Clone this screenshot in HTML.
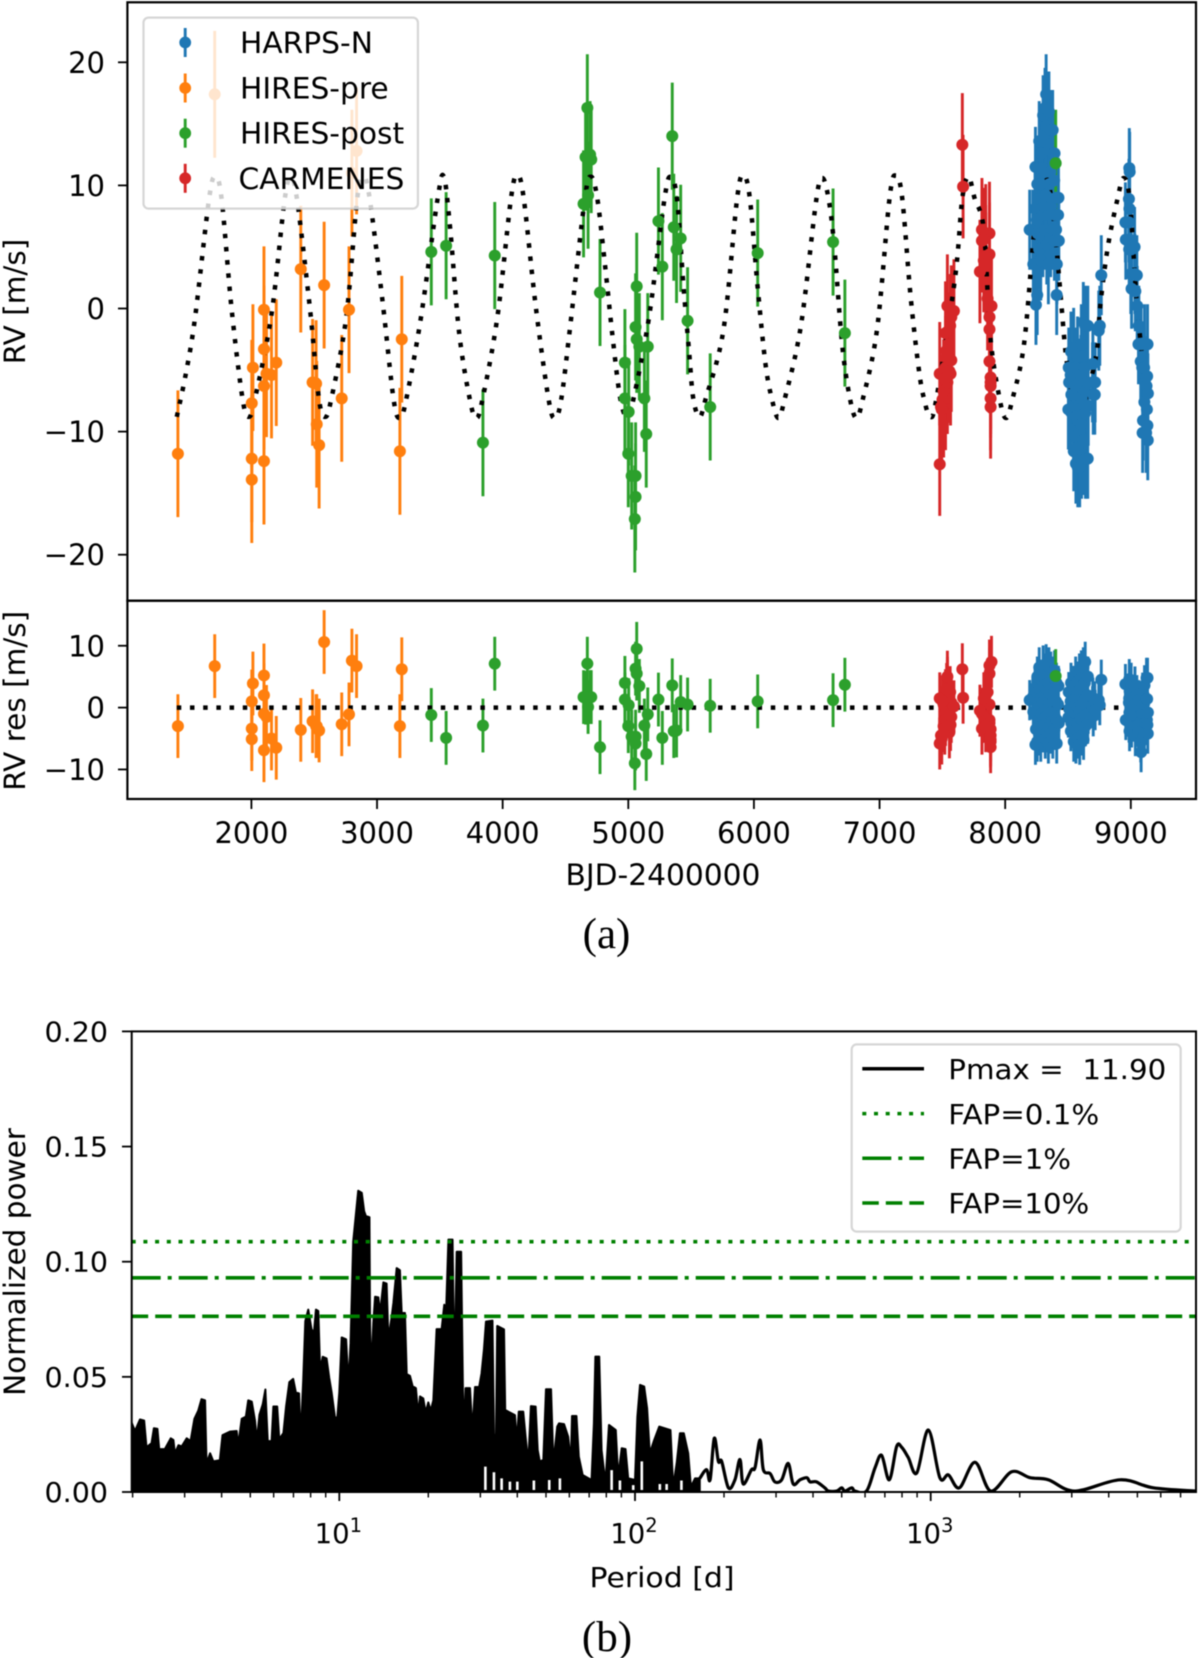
<!DOCTYPE html>
<html lang="en">
<head>
<meta charset="utf-8">
<title>Radial velocity time series and periodogram</title>
<style>
html,body{margin:0;padding:0;background:#fff;}
svg{display:block;filter:blur(.45px);}
text{font-family:"DejaVu Sans","Liberation Sans",sans-serif;fill:#000;}
.caption{font-family:"Liberation Serif",serif;font-size:43px;}
</style>
</head>
<body>
<svg xmlns="http://www.w3.org/2000/svg" width="1200" height="1658" viewBox="0 0 1200 1658">
  <defs>
    <clipPath id="pgram-clip"><rect x="131.7" y="1031.4" width="1064.3" height="460.6"/></clipPath>
  </defs>
  <rect x="0" y="0" width="1200" height="1658" fill="#fff"/>

  <g id="rv-bars"></g>
  <g id="rv-model"></g>
  <g id="rv-markers"></g>
  <rect x="127.4" y="2.3" width="1068.6" height="598.4" fill="none" stroke="#000" stroke-width="2.2"/>

  <g id="res-bars"></g>
  <g id="res-model"></g>
  <g id="res-markers"></g>
  <rect x="127.4" y="600.7" width="1068.6" height="198.3" fill="none" stroke="#000" stroke-width="2.2"/>

  <g id="axis-ticks"></g>

  <text transform="translate(25,301.5) rotate(-90)" text-anchor="middle" font-size="29.5">RV [m/s]</text>
  <text transform="translate(25,700.8) rotate(-90)" text-anchor="middle" font-size="29.5">RV res [m/s]</text>
  <text x="663" y="885" text-anchor="middle" font-size="29.7">BJD-2400000</text>
  <text class="caption" x="606.5" y="948" text-anchor="middle">(a)</text>

  <g>
    <rect x="143.5" y="17.6" width="274.4" height="191" rx="5" fill="#fff" fill-opacity=".8" stroke="#ccc" stroke-opacity=".8" stroke-width="2.2"/>
    <g>
      <line x1="185.2" x2="185.2" y1="28" y2="57" stroke="#1f77b4" stroke-width="2.9"/>
      <circle cx="185.2" cy="42.5" r="5.9" fill="#1f77b4"/>
      <text x="240" y="53" font-size="29.7">HARPS-N</text>
    </g>
    <g>
      <line x1="185.2" x2="185.2" y1="73.5" y2="102.5" stroke="#ff7f0e" stroke-width="2.9"/>
      <circle cx="185.2" cy="88" r="5.9" fill="#ff7f0e"/>
      <text x="240" y="98.5" font-size="29.7">HIRES-pre</text>
    </g>
    <g>
      <line x1="185.2" x2="185.2" y1="118.7" y2="147.7" stroke="#2ca02c" stroke-width="2.9"/>
      <circle cx="185.2" cy="133.2" r="5.9" fill="#2ca02c"/>
      <text x="240" y="143.7" font-size="29.7">HIRES-post</text>
    </g>
    <g>
      <line x1="185.2" x2="185.2" y1="163.8" y2="192.8" stroke="#d62728" stroke-width="2.9"/>
      <circle cx="185.2" cy="178.3" r="5.9" fill="#d62728"/>
      <text x="238.5" y="188.8" font-size="29.7">CARMENES</text>
    </g>
  </g>

  <g clip-path="url(#pgram-clip)" id="pgram"></g>
  <g clip-path="url(#pgram-clip)" id="fap"></g>
  <rect x="131.7" y="1031.4" width="1064.3" height="460.6" fill="none" stroke="#000" stroke-width="2"/>
  <g id="pgram-ticks"></g>

  <text transform="translate(25,1262) rotate(-90)" text-anchor="middle" font-size="29.5">Normalized power</text>
  <text x="662" y="1587" text-anchor="middle" font-size="28" textLength="145" lengthAdjust="spacingAndGlyphs">Period [d]</text>
  <text class="caption" x="607" y="1651" text-anchor="middle">(b)</text>

  <g>
    <rect x="851.7" y="1044.4" width="329" height="187.2" rx="5" fill="#fff" fill-opacity=".8" stroke="#ccc" stroke-opacity=".8" stroke-width="2.2"/>
    <g>
      <line x1="862.3" x2="924" y1="1068.8" y2="1068.8" stroke="#000" stroke-width="3.5"/>
      <text x="948.3" y="1079" font-size="28" textLength="218" lengthAdjust="spacingAndGlyphs" xml:space="preserve">Pmax =  11.90</text>
    </g>
    <g>
      <line x1="862.3" x2="924" y1="1113.6" y2="1113.6" stroke="#008000" stroke-width="3.5" stroke-dasharray="4 7.7"/>
      <text x="948.3" y="1123.8" font-size="28" textLength="151" lengthAdjust="spacingAndGlyphs">FAP=0.1%</text>
    </g>
    <g>
      <line x1="862.3" x2="924" y1="1158.3" y2="1158.3" stroke="#008000" stroke-width="3.5" stroke-dasharray="29 7 4 7"/>
      <text x="948.3" y="1168.5" font-size="28" textLength="122.7" lengthAdjust="spacingAndGlyphs">FAP=1%</text>
    </g>
    <g>
      <line x1="862.3" x2="924" y1="1203" y2="1203" stroke="#008000" stroke-width="3.5" stroke-dasharray="16.5 7"/>
      <text x="948.3" y="1213.2" font-size="28" textLength="141" lengthAdjust="spacingAndGlyphs">FAP=10%</text>
    </g>
  </g>
</svg>

<script>
// ---------- tick labels ----------
const rvTicks = [20, 10, 0, -10, -20];
const resTicks = [10, 0, -10];
const dayTicks = [2000, 3000, 4000, 5000, 6000, 7000, 8000, 9000];
const powerTicks = ["0.00", "0.05", "0.10", "0.15", "0.20"];
const periodDecades = [1, 2, 3];
const periodMinorLogs = [0.301,0.477,0.602,0.699,0.778,0.845,0.903,0.954,1.301,1.477,1.602,1.699,1.778,1.845,1.903,1.954,2.301,2.477,2.602,2.699,2.778,2.845,2.903,2.954,3.301,3.477,3.602,3.699,3.778,3.845];

// ---------- HARPS-N ----------
const harpsDays = [8195,8220,8224,8241,8238,8243,8240,8245,8256,8253,8258,8255,8271,8274,8268,8272,8270,8287,8284,8289,8286,8283,8302,8305,8299,8303,8300,8317,8314,8320,8316,8319,8326,8329,8323,8331,8348,8345,8351,8347,8350,8344,8363,8360,8366,8362,8378,8381,8375,8379,8393,8390,8396,8392,8408,8405,8411,8410,8424,8421,8427,
8506,8509,8503,8524,8521,8527,8523,8545,8542,8548,8544,8546,8561,8558,8564,8560,8563,8576,8573,8579,8575,8578,8591,8588,8594,8590,8593,8606,8603,8609,8605,8608,8622,8619,8625,8621,8624,8637,8634,8640,8636,8639,8658,8655,8661,8657,8698,8695,8701,8713,8716,8753,8745,8765,
8957,8960,8988,8991,8985,8989,8986,8990,8987,9003,9000,9006,9033,9030,9036,9048,9051,9064,9061,9079,9082,9094,9091,9097,9109,9106,9112,9108,9125,9122,9128,9133,9130,9136,9132,9135];
const harpsRv = [6.4,6.4,3.6,11.5,8.1,6.4,3.6,0.3,10.1,7.2,6.1,1.1,13.6,11.4,8.9,6.4,4.8,12.6,10.1,8.1,6.1,3.9,15.7,13.6,11.4,7.6,5.8,16.3,14.2,11.1,8.3,6.4,17.4,14.8,9.2,5.2,16,12.9,10.1,7.6,6.1,3.6,14.5,11.1,8.3,5.8,14.5,12.6,8.9,6.4,12.6,10.4,7.6,5.5,9,6.4,3.6,1.1,9,7.6,5.5,
-4.8,-6,-8.2,-3.5,-5.4,-7,-8.4,-3.2,-6,-7.9,-9.8,-11.6,-4.8,-6.3,-8.8,-10.4,-12.6,-3.9,-7.3,-9.1,-11.3,-12.9,-6,-7.9,-10.1,-11.9,-12.9,-2.9,-5.4,-7.3,-9.4,-12.2,-1.1,-3.9,-7.9,-10.7,-11.9,-1.4,-4.8,-6.7,-8.5,-12.2,-1.4,-6,-7.9,-12.2,-4.5,-6,-7,-7,-6,-1.4,-1.8,2.7,
7,5.6,11.4,11.1,8.9,8.1,7,5.6,4.8,4.8,2.8,1.6,2.8,5,1.4,2.7,0.2,-1.4,-2.9,-4.3,-2.9,-10.1,-4.8,-9.1,-2.9,-4.8,-6,-7.6,-6.3,-10.1,-8.2,-2.9,-5.5,-6.9,-9.5,-10.7];
const harpsRes = [1.2,1.7,-0.7,-6,3.2,1.5,-1.2,-3.5,5,2.5,-0.5,-5.5,6.5,3,0.5,-2,-4.5,4.5,1.5,-1,-3,-5.5,6.8,3.5,0.8,-1.8,-4,5.5,2,-0.3,-2.8,-5,7,3,-1.5,-4,6.5,4,1,-1,-3.2,-5.8,5.8,2.2,-0.8,-4.2,5,1.8,-2.2,-5,6,3.2,-1.5,-3.6,4,1,-2,-5.8,3.5,0.5,-2.5,
2.5,-0.2,-1.6,4,1,-2.5,-3.8,3.5,1.2,-0.8,-3,-5.5,5,1.5,-1,-3.5,-5.8,4.2,2,0,-2.5,-5,5.5,2.8,-0.5,-3.2,-6,6,3,0.6,-1.8,-4.5,6.5,3.6,1,-2.2,-5.2,7.4,4,1.5,-1.2,-3,5,2,-1,-2.6,1.6,0.2,-1.4,1,-0.4,0.4,1.2,4.5,
3.8,-2,4.6,2.6,0.8,-0.8,-2.4,-3.8,1.5,4,-1.2,-3.2,3.4,0.4,-4.6,2,-3,1.2,-4,-5.6,-7.2,2.4,-1,-4.8,3.6,0.6,-2.4,-4.4,4.8,1.4,-2,4.8,1.4,-0.8,-2.8,-4.2];
const harpsErr = 3.25;

// ---------- HIRES-pre ----------
const hiresPreDays = [1415,1708,2012,2003,2003,2003,2100,2100,2100,2100,2120,2160,2198,2393,2487,2515,2520,2539,2579,2719,2777,2800,2837,3182,3197];
const hiresPreRv = [-11.8,17.4,-4.8,-7.7,-12.2,-13.9,-0.1,-3.3,-6.3,-12.4,-5.3,-5.4,-4.4,3.2,-6,-6.1,-9.4,-11.1,1.9,-7.3,-0.1,11,12.8,-11.6,-2.5];
const hiresPreRes = [-3,6.7,3.9,1,-3.4,-5.1,5.2,2,-1,-6.9,-1.5,-5,-6.5,-3.6,-2.2,-3,-3,-3.7,10.6,-2.7,-1.1,7.6,6.7,-3,6.2];
const hiresPreErr = 5.15;

// ---------- HIRES-post ----------
const hiresPostDays = [3432,3550,3843,3937,4644,4674,4680,4696,4705,4660,4775,4973,4973,5003,5000,5027,5058,5058,5052,5067,5058,5067,5088,5155,5128,5143,5240,5271,5350,5362,5384,5417,5472,5652,6030,6630,6724,8402];
const hiresPostRv = [4.6,5.1,-10.9,4.3,8.5,16.3,9.2,12.5,12.1,12.3,1.3,-4.4,-7.3,-8.4,-11.8,-13.6,-13.6,-15.3,-17.1,1.8,-1.5,-2.5,-3.1,-3.1,-7.3,-10.2,7.1,3.4,14,6.6,4.8,5.7,-1,-8,4.5,5.4,-2,11.8];
const hiresPostRes = [-1.2,-4.9,-2.9,7.1,1.7,7.1,0.1,1.7,1.7,1.6,-6.4,4,1.3,0.4,-3,-4.7,-4.7,-5.8,-9,9.5,6.3,5.5,3.5,-1.1,-2.9,-7.5,1.3,-4.9,3.6,-3.8,-3.7,0.9,0.5,0.3,1,1.2,3.7,5.1];
const hiresPostErr = 4.35;

// ---------- CARMENES ----------
const carmenesDays = [7479,7659,7665,7479,7510,7525,7495,7510,7540,7525,7556,7571,7540,7549,7525,7562,7540,7592,7571,7519,7501,7489,7534,7565,7815,7875,7845,7815,7875,7830,7799,7845,7891,7875,7875,7860,7875,7884,7884,7884,7884,7884,7845,7830];
const carmenesRv = [-12.65,13.3,9.9,-5.3,-7.9,-7.3,-8.2,-6.7,-6,-4.8,-5.1,-4.2,-3.9,-2.9,-2,-1.4,0.2,-0.2,-0.7,-5.7,-7.4,-8,-3.4,-5.3,6.4,6.1,5.9,5.5,4.4,3.9,3,4.2,0.2,-0.7,-1.7,0.8,-4.3,-5.6,-6,-6.3,-7.3,-8,3.6,5.6];
const carmenesRes = [-5.8,6.2,1.6,1.5,-3,-1,-5,0.5,3.5,2,-4,0.8,4,1.2,-2,2.5,5,0.2,-1.5,-3.4,1,-4.5,3,-2.8,-1,0.5,1,-3.4,-2,-1.5,-0.5,2,7.4,5.5,6.8,2.5,-2.5,-3.5,-4.5,-5.5,-6.4,-5.2,-3,1.5];
const carmenesErr = 4.2;

// ---------- RV model ----------
const modelDays = [1406,1480,1552,1663,1713,1763,1842,1929,1979,2029,2161,2264,2314,2364,2466,2537,2587,2637,2755,2842,2892,2942,3045,3132,3182,3232,3350,3482,3532,3582,3654,3739,3789,3839,3958,4067,4117,4167,4263,4366,4416,4466,4537,4654,4704,4754,4814,4875,4936,4990,5040,5165,5288,5338,5388,5438,5484,5517,5567,5617,5758,5867,5917,5967,6030,6092,6144,6194,6244,6374,6496,6546,6596,6640,6703,6766,6816,6866,6980,7080,7130,7180,7247,7312,7353,7403,7453,7600,7658,7708,7758,7830,7882,7957,8007,8057,8150,8226,8267,8317,8367,8410,8450,8485,8540,8590,8640,8728,8756,8817,8892,8942,8992,9048,9109,9118,9133];
const modelRv = [-8.8,-5.2,-0.7,8.9,10.7,8.9,0,-7.3,-8.8,-7.3,-0.4,8.8,10.6,8.8,0,-7.3,-8.8,-7.3,-0.7,8.9,10.7,8.9,0.5,-7.4,-8.9,-7.4,-0.7,8.9,10.7,6.5,-2,-7.4,-8.9,-7.4,-0.7,9,10.8,9,0.2,-7.4,-8.9,-7.4,-1.5,8.9,10.7,8.9,3.6,-2.3,-7.3,-8.8,-7.4,-0.7,8.9,10.7,8.9,2,-3.5,-7.3,-8.8,-7.3,-1.7,9,10.8,9,1.7,-4.5,-7.4,-8.9,-7.4,-1.4,8.8,10.6,8.8,5,-3,-7.4,-8.9,-7.4,-1.7,9,10.8,9,1,-4.9,-7.3,-8.8,-7.3,2.4,8.9,10.7,8.9,6.4,-2.3,-7.4,-8.9,-7.4,-2.9,5.8,9,10.7,9,4.75,0,-3.9,-7.4,-8.9,-7.4,-3.6,0.15,5,8.8,10.6,8.8,0.4,-5.5,-6.3,-7];
const residualLineDays = [1406, 9150];
const residualLineValues = [0, 0];

// ---------- periodogram: upper envelope of the dense region (log10 period, power) ----------
const envelopeLogPeriod = [0.298,0.309,0.326,0.340,0.348,0.365,0.373,0.385,0.391,0.410,0.430,0.439,0.444,0.456,0.467,0.484,0.497,0.510,0.523,0.534,0.546,0.551,0.563,0.574,0.596,0.605,0.630,0.653,0.658,0.670,0.684,0.692,0.704,0.715,0.721,0.730,0.741,0.750,0.758,0.771,0.777,0.790,0.797,0.811,0.820,0.831,0.844,0.853,0.864,0.869,0.878,0.885,0.895,0.906,0.914,0.921,0.929,0.935,0.944,0.957,0.966,0.974,0.985,0.993,1.000,1.008,1.023,1.031,1.038,1.047,1.064,1.076,1.084,1.090,1.102,1.104,1.108,1.115,1.121,1.132,1.138,1.149,1.160,1.166,1.177,1.183,1.194,1.205,1.211,1.222,1.228,1.239,1.248,1.259,1.267,1.273,1.284,1.292,1.301,1.309,1.318,1.329,1.346,1.355,1.361,1.369,1.383,1.389,1.397,1.412,1.420,1.427,1.442,1.450,1.459,1.473,1.481,1.489,1.496,1.518,1.523,1.530,1.534,1.557,1.561,1.594,1.600,1.607,1.622,1.630,1.639,1.648,1.664,1.671,1.678,1.690,1.699,1.716,1.724,1.737,1.743,1.760,1.774,1.783,1.787,1.802,1.810,1.823,1.853,1.861,1.866,1.879,1.887,1.900,1.912,1.935,1.943,1.955,1.968,1.977,2.000,2.008,2.017,2.031,2.041,2.050,2.065,2.082,2.120,2.129,2.141,2.152,2.165,2.180,2.189,2.203,2.219];
const envelopePower = [0.030,0.0265,0.0315,0.031,0.0194,0.0212,0.0277,0.0274,0.0186,0.0186,0.0233,0.0226,0.0168,0.0203,0.0198,0.0233,0.0221,0.0318,0.0353,0.0403,0.0398,0.0124,0.0168,0.0133,0.0138,0.0247,0.0262,0.0265,0.0203,0.0318,0.0327,0.0398,0.0392,0.0309,0.0221,0.0336,0.038,0.0445,0.0221,0.0221,0.0371,0.0371,0.023,0.0256,0.0371,0.0477,0.0491,0.0433,0.0428,0.0226,0.0486,0.0742,0.0792,0.0707,0.0689,0.0792,0.0786,0.053,0.0587,0.058,0.0495,0.0433,0.0327,0.0318,0.0433,0.0671,0.0663,0.0468,0.0645,0.1087,0.1308,0.1299,0.1219,0.1198,0.1193,0.0724,0.0512,0.0733,0.0848,0.0845,0.0777,0.091,0.0905,0.0663,0.076,0.0822,0.0972,0.0963,0.0777,0.0777,0.0512,0.0504,0.0459,0.0451,0.0336,0.0415,0.0406,0.0345,0.0389,0.0353,0.0398,0.0707,0.0707,0.0813,0.0777,0.1096,0.1096,0.0512,0.1043,0.1043,0.0247,0.0451,0.0451,0.0265,0.0456,0.0456,0.0515,0.0617,0.074,0.0744,0.0248,0.0248,0.0721,0.0706,0.0356,0.0334,0.0219,0.0349,0.0349,0.024,0.0125,0.0373,0.0371,0.0182,0.0132,0.014,0.0446,0.0446,0.0125,0.0284,0.0298,0.0295,0.024,0.0125,0.033,0.033,0.0153,0.0074,0.0052,0.0298,0.0588,0.0588,0.0182,0.0038,0.0291,0.0269,0.0067,0.019,0.0186,0.0059,0.0052,0.0327,0.0465,0.0458,0.0363,0.0168,0.0226,0.0284,0.0269,0.0023,0.0125,0.0255,0.0255,0.0168,0.0023,0.0059,0.0059];

// ---------- periodogram: troughs that reach below the dense region (log10 period, power at the trough) ----------
const troughLogPeriod = [1.494,1.523,1.549,1.577,1.602,1.658,1.710,1.746,1.921,1.949,1.994,2.023,2.084,2.107,2.157];
const troughPower = [0.011,0.0086,0.0059,0.0045,0.0045,0.005,0.0052,0.0059,0.0095,0.005,0.003,0.0133,0.0035,0.0035,0.005];

// ---------- periodogram: resolved line for longer periods (log10 period, power) ----------
const lineLogPeriod = [2.219,2.242,2.254,2.268,2.282,2.293,2.316,2.338,2.355,2.366,2.394,2.406,2.423,2.434,2.457,2.473,2.496,2.518,2.535,2.558,2.581,2.592,2.614,2.642,2.654,2.682,2.699,2.710,2.733,2.744,2.783,2.812,2.834,2.860,2.885,2.902,2.924,2.953,2.992,3.031,3.060,3.097,3.150,3.203,3.274,3.336,3.398,3.488,3.640,3.753,3.897];
const linePower = [0.0059,0.0097,0.0053,0.0233,0.0133,0.0133,0.0018,0.0053,0.0141,0.0035,0.0097,0.0106,0.0226,0.0097,0.008,0.0044,0.0053,0.0124,0.0035,0.0053,0.0062,0.0044,0.0044,0.0018,0.0004,0.0004,0.0018,0.0004,0.0018,0.0004,0.0004,0.0106,0.0159,0.0053,0.0198,0.0194,0.015,0.0083,0.0269,0.0062,0.0074,0.0018,0.0129,0.0004,0.0088,0.0062,0.0053,0.0004,0.0053,0.0018,0.0004];

// ---------- false-alarm levels ----------
const fapLevels = [0.1087, 0.093, 0.0763];
const fapNames = ["fap-0-1-percent", "fap-1-percent", "fap-10-percent"];

// ---------- axis functions ----------
function xDay(d) { return 251.4 + (d - 2000) * 0.12563; }
function yRv(v) { return 308.5 - v * 12.31; }
function yRes(v) { return 707.6 - v * 6.185; }
function xLogP(l) { return 339.3 + (l - 1) * 295.7; }
function yPow(p) { return 1492 - p * 2303; }

const NS = "http://www.w3.org/2000/svg";
function make(tag, attrs, parent) {
  const node = document.createElementNS(NS, tag);
  for (const k in attrs) node.setAttribute(k, attrs[k]);
  parent.appendChild(node);
  return node;
}
function smoothPath(pts) {
  let d = "M" + pts[0][0].toFixed(2) + " " + pts[0][1].toFixed(2);
  for (let i = 0; i < pts.length - 1; i++) {
    const p0 = pts[Math.max(i - 1, 0)], p1 = pts[i], p2 = pts[i + 1], p3 = pts[Math.min(i + 2, pts.length - 1)];
    const c1x = p1[0] + (p2[0] - p0[0]) / 6, c1y = p1[1] + (p2[1] - p0[1]) / 6;
    const c2x = p2[0] - (p3[0] - p1[0]) / 6, c2y = p2[1] - (p3[1] - p1[1]) / 6;
    d += "C" + c1x.toFixed(2) + " " + c1y.toFixed(2) + " " + c2x.toFixed(2) + " " + c2y.toFixed(2) + " " + p2[0].toFixed(2) + " " + p2[1].toFixed(2);
  }
  return d;
}

const seriesList = [
  { key: "harps-n", days: harpsDays, rv: harpsRv, res: harpsRes, err: harpsErr, color: "#1f77b4" },
  { key: "hires-pre", days: hiresPreDays, rv: hiresPreRv, res: hiresPreRes, err: hiresPreErr, color: "#ff7f0e" },
  { key: "hires-post", days: hiresPostDays, rv: hiresPostRv, res: hiresPostRes, err: hiresPostErr, color: "#2ca02c" },
  { key: "carmenes", days: carmenesDays, rv: carmenesRv, res: carmenesRes, err: carmenesErr, color: "#d62728" }
];

const rvBars = document.getElementById("rv-bars");
const rvMarkers = document.getElementById("rv-markers");
const resBars = document.getElementById("res-bars");
const resMarkers = document.getElementById("res-markers");

seriesList.forEach(function (s) {
  s.days.forEach(function (day, i) {
    const cx = xDay(day);
    const bar = make("line", { x1: cx, x2: cx, y1: yRv(s.rv[i] + s.err), y2: yRv(s.rv[i] - s.err), stroke: s.color, "stroke-width": 2.9 }, rvBars);
    
    
    const dot = make("circle", { cx: cx, cy: yRv(s.rv[i]), r: 6, fill: s.color }, rvMarkers);
    
    
    const rbar = make("line", { x1: cx, x2: cx, y1: yRes(s.res[i] + s.err), y2: yRes(s.res[i] - s.err), stroke: s.color, "stroke-width": 2.9 }, resBars);
    
    
    const rdot = make("circle", { cx: cx, cy: yRes(s.res[i]), r: 6, fill: s.color }, resMarkers);
    
    
  });
});

const modelPts = modelDays.map(function (d, i) { return [xDay(d), yRv(modelRv[i])]; });
const modelLine = make("path", { d: smoothPath(modelPts), fill: "none", stroke: "#000", "stroke-width": 4.5, "stroke-dasharray": "4.5 8.7" }, document.getElementById("rv-model"));



const zeroLine = make("line", { x1: xDay(residualLineDays[0]), x2: xDay(residualLineDays[1]), y1: yRes(residualLineValues[0]), y2: yRes(residualLineValues[1]), stroke: "#000", "stroke-width": 4.5, "stroke-dasharray": "4.5 8.7" }, document.getElementById("res-model"));



// ticks, top panels
const tickLayer = document.getElementById("axis-ticks");
rvTicks.forEach(function (v) {
  const y = yRv(v);
  const mark = make("line", { x1: 118, x2: 127.4, y1: y, y2: y, stroke: "#000", "stroke-width": 1.8 }, tickLayer);
  
  
  const label = make("text", { x: 105, y: y + 10.5, "text-anchor": "end", "font-size": 29 }, tickLayer);
  label.textContent = String(v).replace("-", "\u2212");
  
  
});
resTicks.forEach(function (v) {
  const y = yRes(v);
  const mark = make("line", { x1: 118, x2: 127.4, y1: y, y2: y, stroke: "#000", "stroke-width": 1.8 }, tickLayer);
  
  
  const label = make("text", { x: 105, y: y + 10.5, "text-anchor": "end", "font-size": 29 }, tickLayer);
  label.textContent = String(v).replace("-", "\u2212");
  
  
});
dayTicks.forEach(function (d) {
  const x = xDay(d);
  const mark = make("line", { x1: x, x2: x, y1: 799, y2: 809, stroke: "#000", "stroke-width": 1.8 }, tickLayer);
  
  
  const label = make("text", { x: x, y: 843, "text-anchor": "middle", "font-size": 29 }, tickLayer);
  label.textContent = String(d);
  
  
});

// periodogram
const pgram = document.getElementById("pgram");
let areaD = "M" + xLogP(envelopeLogPeriod[0]) + " " + yPow(0);
envelopeLogPeriod.forEach(function (l, i) { areaD += "L" + xLogP(l).toFixed(2) + " " + yPow(envelopePower[i]).toFixed(2); });
areaD += "L" + xLogP(envelopeLogPeriod[envelopeLogPeriod.length - 1]).toFixed(2) + " " + yPow(0) + "Z";
const area = make("path", { d: areaD, fill: "#000", stroke: "#000", "stroke-width": 2, "stroke-linejoin": "round" }, pgram);



troughLogPeriod.forEach(function (l, i) {
  const x = xLogP(l);
  const gap = make("line", { x1: x, x2: x, y1: yPow(0) - 2, y2: yPow(troughPower[i]), stroke: "#fff", "stroke-width": 2.6 }, pgram);
  
  
});

const linePts = lineLogPeriod.map(function (l, i) { return [xLogP(l), yPow(linePower[i])]; });
const pLine = make("path", { d: smoothPath(linePts), fill: "none", stroke: "#000", "stroke-width": 3.2, "stroke-linejoin": "round" }, pgram);



const fapDash = ["4 7.7", "29 7 4 7", "16.5 7"];
fapLevels.forEach(function (lv, i) {
  const ln = make("line", { x1: 131.7, x2: 1196, y1: yPow(lv), y2: yPow(lv), stroke: "#008000", "stroke-width": 3.6, "stroke-dasharray": fapDash[i] }, document.getElementById("fap"));
  
  
});

const pTicks = document.getElementById("pgram-ticks");
powerTicks.forEach(function (t) {
  const y = yPow(parseFloat(t));
  const mark = make("line", { x1: 122, x2: 131.7, y1: y, y2: y, stroke: "#000", "stroke-width": 1.8 }, pTicks);
  
  
  const label = make("text", { x: 108, y: y + 10, "text-anchor": "end", "font-size": 28, textLength: 63.5, lengthAdjust: "spacingAndGlyphs" }, pTicks);
  label.textContent = t;
  
  
});
periodMinorLogs.forEach(function (l) {
  const x = xLogP(l);
  const mark = make("line", { x1: x, x2: x, y1: 1492, y2: 1497.5, stroke: "#000", "stroke-width": 1.4 }, pTicks);
  
  
});
periodDecades.forEach(function (dec) {
  const x = xLogP(dec);
  const mark = make("line", { x1: x, x2: x, y1: 1492, y2: 1501, stroke: "#000", "stroke-width": 1.8 }, pTicks);
  
  
  const label = make("text", { x: x - 1, y: 1543, "text-anchor": "middle", "font-size": 27.5 }, pTicks);
  
  
  const base = make("tspan", {}, label);
  base.textContent = "10";
  const exp = make("tspan", { dy: -11, "font-size": 19.5 }, label);
  exp.textContent = String(dec);
});
</script>
</body>
</html>
